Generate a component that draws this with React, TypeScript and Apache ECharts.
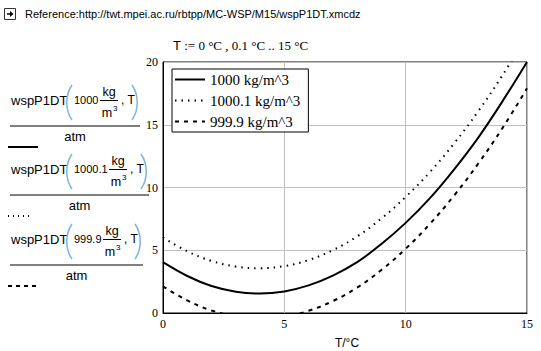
import React, { useEffect, useRef } from "react";
import * as echarts from "echarts";

const temps = [0, 1, 2, 3, 4, 5, 6, 7, 8, 9, 10, 11, 12, 13, 14, 15];
const p1000 = [4.05, 2.95, 2.15, 1.7, 1.55, 1.72, 2.2, 2.98, 4.05, 5.5, 7.18, 9.15, 11.45, 14.0, 16.9, 20.0];
const p1000_1 = [6.02, 4.92, 4.15, 3.7, 3.57, 3.74, 4.22, 5.01, 6.1, 7.53, 9.25, 11.23, 13.52, 16.1, 18.97, 22.1];
const p999_9 = [2.12, 1.0, 0.2, -0.28, -0.46, -0.3, 0.18, 0.95, 2.02, 3.43, 5.12, 7.1, 9.37, 11.93, 14.77, 17.9];
const seriesNames = ["1000 kg/m^3", "1000.1 kg/m^3", "999.9 kg/m^3"];
const densities = ["1000", "1000.1", "999.9"];
const xTicks = [0, 5, 10, 15];
const yTicks = [0, 5, 10, 15, 20];

const SANS = '"Liberation Sans", Arial, sans-serif';
const SERIF = '"Liberation Serif", "Times New Roman", serif';

function block(y0: number, dens: string, numEnd: number, barEnd: number, lineType: "solid" | "dotted" | "dashed", lineEnd: number) {
  const numX = 74;
  const fracL = numEnd + 3;
  const fracR = fracL + 18;
  const commaX = fracR + 3;
  const parenR = commaX + 11;
  const els: any[] = [
    { type: "text", style: { text: "wspP1DT", x: 11, y: y0, font: `13px ${SANS}`, fill: "#000", textVerticalAlign: "middle" } },
    { type: "bezierCurve", shape: { x1: 72, y1: y0 - 15, x2: 72, y2: y0 + 20, cpx1: 65, cpy1: y0 - 5, cpx2: 65, cpy2: y0 + 10 }, style: { stroke: "#7fb4de", lineWidth: 1.5, fill: null } },
    { type: "text", style: { text: dens, x: numX, y: y0, font: `11px ${SANS}`, fill: "#000", textVerticalAlign: "middle" } },
    { type: "text", style: { text: "kg", x: (fracL + fracR) / 2, y: y0 - 8, font: `12.5px ${SANS}`, fill: "#000", textAlign: "center", textVerticalAlign: "middle" } },
    { type: "line", shape: { x1: fracL, y1: y0 + 0.5, x2: fracR, y2: y0 + 0.5 }, style: { stroke: "#000", lineWidth: 1 } },
    { type: "text", style: { text: "m", x: (fracL + fracR) / 2 - 2, y: y0 + 13, font: `12.5px ${SANS}`, fill: "#000", textAlign: "center", textVerticalAlign: "middle" } },
    { type: "text", style: { text: "3", x: (fracL + fracR) / 2 + 4, y: y0 + 8, font: `8px ${SANS}`, fill: "#000", textVerticalAlign: "middle" } },
    { type: "text", style: { text: ", T", x: commaX, y: y0, font: `12px ${SANS}`, fill: "#000", textVerticalAlign: "middle" } },
    { type: "bezierCurve", shape: { x1: parenR, y1: y0 - 15, x2: parenR, y2: y0 + 20, cpx1: parenR + 7, cpy1: y0 - 5, cpx2: parenR + 7, cpy2: y0 + 10 }, style: { stroke: "#7fb4de", lineWidth: 1.5, fill: null } },
    { type: "line", shape: { x1: 10, y1: y0 + 26, x2: barEnd, y2: y0 + 26 }, style: { stroke: "#000", lineWidth: 1 } },
    { type: "text", style: { text: "atm", x: (10 + barEnd) / 2, y: y0 + 36, font: `13px ${SANS}`, fill: "#000", textAlign: "center", textVerticalAlign: "middle" } },
  ];
  const dash = lineType === "solid" ? null : lineType === "dotted" ? [1, 4] : [4, 4];
  els.push({ type: "line", shape: { x1: 8, y1: y0 + 47, x2: lineEnd, y2: y0 + 47 }, style: { stroke: "#000", lineWidth: 2, lineDash: dash } });
  return els;
}

export default function App() {
  const ref = useRef<HTMLDivElement>(null);
  useEffect(() => {
    if (!ref.current) return;
    const chart = echarts.init(ref.current, null, { renderer: "svg" });
    const mk = (vals: number[]) => temps.map((t, i) => [t, vals[i]]);
    const graphic: any[] = [
      { type: "rect", shape: { x: 4.5, y: 8.5, width: 11, height: 11 }, style: { stroke: "#333", fill: "#fff", lineWidth: 1 } },
      { type: "line", shape: { x1: 7, y1: 14, x2: 11, y2: 14 }, style: { stroke: "#000", lineWidth: 1.5 } },
      { type: "polygon", shape: { points: [[10, 11], [13.5, 14], [10, 17]] }, style: { fill: "#000" } },
      { type: "text", style: { text: "Reference:http://twt.mpei.ac.ru/rbtpp/MC-WSP/M15/wspP1DT.xmcdz", x: 25, y: 14, font: `11px ${SANS}`, fill: "#000", textVerticalAlign: "middle" } },
      {
        type: "text",
        style: {
          text: "{a|T}{b| := 0 °C , 0.1 °C .. 15 °C}",
          x: 173, y: 45, textVerticalAlign: "middle",
          rich: {
            a: { fontFamily: SANS, fontSize: 13, fill: "#000" },
            b: { fontFamily: SERIF, fontSize: 13, fill: "#000" },
          },
        },
      },
      { type: "text", style: { text: "T/°C", x: 347, y: 343, font: `12px ${SANS}`, fill: "#000", textAlign: "center", textVerticalAlign: "middle" } },
      ...block(100, densities[0], 97, 140, "solid", 38),
      ...block(169, densities[1], 106, 149, "dotted", 33),
      ...block(239, densities[2], 100, 143, "dashed", 36),
    ];
    chart.setOption({
      animation: false,
      backgroundColor: "#fff",
      grid: { left: 163, right: 14, top: 62, bottom: 38, show: true, borderColor: "#000", borderWidth: 1 },
      legend: {
        orient: "vertical",
        left: 172,
        top: 69,
        itemWidth: 30,
        itemHeight: 14,
        itemGap: 6,
        padding: [3, 8, 3, 2],
        borderColor: "#000",
        borderWidth: 1,
        backgroundColor: "#fff",
        itemStyle: { opacity: 0, borderWidth: 0 },
        textStyle: { fontFamily: SERIF, fontSize: 15, color: "#000" },
        data: seriesNames,
      },
      xAxis: {
        type: "value",
        min: 0,
        max: 15,
        interval: 5,
        axisLine: { show: true, lineStyle: { color: "#000" } },
        axisTick: { show: false },
        splitLine: { show: true, lineStyle: { color: "#c0c0c0", width: 1 } },
        axisLabel: {
          fontFamily: SERIF, fontSize: 12, color: "#000", margin: 5,
          formatter: (v: number) => (xTicks.includes(v) ? String(v) : ""),
        },
      },
      yAxis: {
        type: "value",
        min: 0,
        max: 20,
        interval: 5,
        axisLine: { show: true, lineStyle: { color: "#000" } },
        axisTick: { show: false },
        splitLine: { show: true, lineStyle: { color: "#c0c0c0", width: 1 } },
        axisLabel: {
          fontFamily: SERIF, fontSize: 12, color: "#000", margin: 5,
          formatter: (v: number) => (yTicks.includes(v) ? String(v) : ""),
        },
      },
      series: [
        { name: seriesNames[0], type: "line", data: mk(p1000), smooth: 0.4, symbol: "none", clip: true, lineStyle: { color: "#000", width: 2, type: "solid" }, itemStyle: { color: "#000" } },
        { name: seriesNames[1], type: "line", data: mk(p1000_1), smooth: 0.4, symbol: "none", clip: true, lineStyle: { color: "#000", width: 2, type: [1.5, 5] }, itemStyle: { color: "#000" } },
        { name: seriesNames[2], type: "line", data: mk(p999_9), smooth: 0.4, symbol: "none", clip: true, lineStyle: { color: "#000", width: 2, type: [4, 5] }, itemStyle: { color: "#000" } },
      ],
      graphic,
    });
    return () => chart.dispose();
  }, []);
  return <div ref={ref} style={{ position: "fixed", left: 0, top: 0, width: 541, height: 351, background: "#fff" }} />;
}
